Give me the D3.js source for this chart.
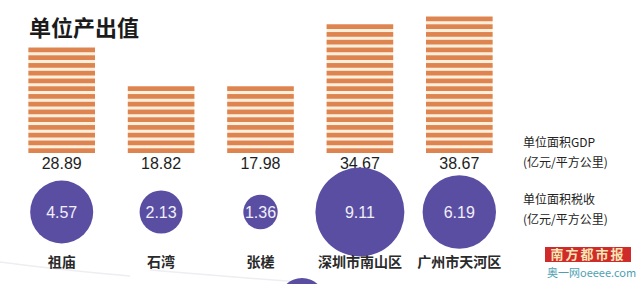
<!DOCTYPE html>
<html>
<head>
<meta charset="utf-8">
<script src="https://cdn.jsdelivr.net/npm/d3@7"></script>
<style>
  body { margin: 0; background: #fff; }
  svg { display: block; font-family: "Liberation Sans", Arial, "Noto Sans CJK SC", sans-serif; }
</style>
</head>
<body>
<svg id="chart" width="640" height="284"></svg>
<script>
// districts and their values
const districts = ["祖庙", "石湾", "张槎", "深圳市南山区", "广州市天河区"]
const gdpPerArea = [28.89, 18.82, 17.98, 34.67, 38.67]   // 单位面积GDP
const taxPerArea = [4.57, 2.13, 1.36, 9.11, 6.19]        // 单位面积税收
const legendLines = ["单位面积GDP", "(亿元/平方公里)", "单位面积税收", "(亿元/平方公里)"]

const svg = d3.select("#chart")
const baseline = 153          // bottom of the striped bars
const circleY = 212           // centre line of the tax bubbles
const stripePitch = 7.75
const stripeH = 4.7

const x = d3.scaleBand()
  .domain(districts)
  .range([12, 509])
  .paddingInner(0.33)
  .paddingOuter(0.165)

const y = d3.scaleLinear()
  .domain([0, d3.max(gdpPerArea)])
  .range([baseline, 14])

const r = d3.scaleSqrt()
  .domain([0, d3.max(taxPerArea)])
  .range([0, 44.5])

const rows = districts.map((d, i) => ({name: d, gdp: gdpPerArea[i], tax: taxPerArea[i]}))

// faint decorative strokes at the bottom, like the paper background
svg.append("path")
  .attr("d", "M0,262 Q60,270 130,276 M150,270 Q220,276 300,282")
  .attr("fill", "none").attr("stroke", "#eeeef2").attr("stroke-width", 1.5)

// title
svg.append("text")
  .attr("x", 29).attr("y", 36)
  .attr("font-size", 22).attr("font-weight", "bold")
  .attr("fill", "#1b1b1b")
  .attr("font-family", "'Noto Sans CJK SC', sans-serif")
  .text("单位产出值")

// striped bars: number of stripes follows the bar height from the scale
const bars = svg.append("g").selectAll("g")
  .data(rows)
  .join("g")
  .attr("transform", d => `translate(${x(d.name)},0)`)

bars.each(function(d) {
  const n = Math.ceil((baseline - y(d.gdp)) / stripePitch)
  const g = d3.select(this)
  const top = baseline - n * stripePitch + (stripePitch - stripeH)
  g.append("rect")
    .attr("x", 0).attr("y", top)
    .attr("width", x.bandwidth()).attr("height", baseline - top)
    .attr("fill", "#fcefdc")
  g.selectAll("rect.stripe")
    .data(d3.range(n))
    .join("rect")
    .attr("class", "stripe")
    .attr("x", 0)
    .attr("y", k => baseline - (k + 1) * stripePitch + (stripePitch - stripeH))
    .attr("width", x.bandwidth())
    .attr("height", stripeH)
    .attr("fill", "#de8450")
})

// GDP value labels
svg.append("g").selectAll("text")
  .data(rows)
  .join("text")
  .attr("x", d => x(d.name) + x.bandwidth() / 2)
  .attr("y", 169)
  .attr("text-anchor", "middle")
  .attr("font-size", 16)
  .attr("fill", "#1e1e1e")
  .text(d => d.gdp.toFixed(2))

// tax bubbles
svg.append("g").selectAll("circle")
  .data(rows)
  .join("circle")
  .attr("cx", d => x(d.name) + x.bandwidth() / 2)
  .attr("cy", circleY)
  .attr("r", d => r(d.tax))
  .attr("fill", "#5a4ea3")

svg.append("g").selectAll("text")
  .data(rows)
  .join("text")
  .attr("x", d => x(d.name) + x.bandwidth() / 2)
  .attr("y", circleY)
  .attr("dy", "0.36em")
  .attr("text-anchor", "middle")
  .attr("font-size", 16)
  .attr("fill", "#f1eff9")
  .text(d => d.tax.toFixed(2))

// district names
svg.append("g").selectAll("text")
  .data(rows)
  .join("text")
  .attr("x", d => x(d.name) + x.bandwidth() / 2)
  .attr("y", 267)
  .attr("text-anchor", "middle")
  .attr("font-size", 14)
  .attr("font-weight", "bold")
  .attr("font-family", "'Noto Sans CJK SC', sans-serif")
  .attr("fill", "#2a2a2a")
  .text(d => d.name)

// legend text on the right
const legendY = [147, 167, 204, 224]
svg.append("g").selectAll("text")
  .data(legendLines)
  .join("text")
  .attr("x", 523)
  .attr("y", (d, i) => legendY[i])
  .attr("font-size", 12)
  .attr("fill", "#222")
  .attr("font-family", "'Noto Sans CJK SC', sans-serif")
  .text(d => d)

// edge of the next graphic peeking in at the bottom
svg.append("circle")
  .attr("cx", 302).attr("cy", 301).attr("r", 23)
  .attr("fill", "#5a4ea3")

// newspaper logo
svg.append("rect")
  .attr("x", 545).attr("y", 247).attr("width", 86).attr("height", 15)
  .attr("fill", "#d02b2b")
svg.append("text")
  .attr("x", 588).attr("y", 259)
  .attr("text-anchor", "middle")
  .attr("font-size", 13).attr("font-weight", "bold")
  .attr("letter-spacing", 2)
  .attr("font-family", "'Noto Sans CJK SC', sans-serif")
  .attr("fill", "#f8e6b4")
  .text("南方都市报")
svg.append("text")
  .attr("x", 547).attr("y", 277)
  .attr("font-size", 11)
  .attr("font-family", "'Noto Sans CJK SC', sans-serif")
  .attr("fill", "#4d9fb2")
  .text("奥一网oeeee.com")
</script>
</body>
</html>
